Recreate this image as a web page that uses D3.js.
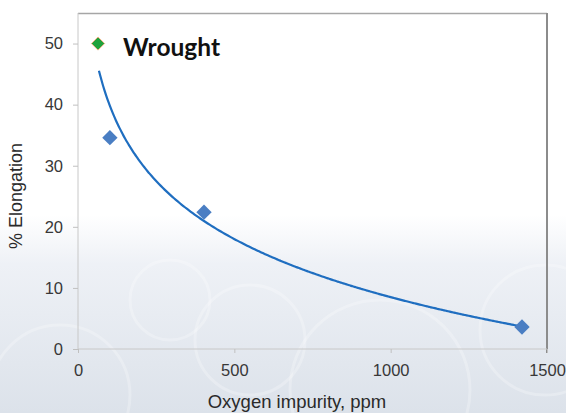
<!DOCTYPE html>
<html>
<head>
<meta charset="utf-8">
<script src="https://cdn.jsdelivr.net/npm/d3@7"></script>
<style>
  html, body { margin: 0; padding: 0; }
  body { width: 566px; height: 413px; overflow: hidden; }
</style>
</head>
<body>
<div id="chart"></div>
<script>
// measured data (oxygen ppm vs % elongation)
const oxygenPpm = [102, 403, 1420];
const elongation = [34.6, 22.4, 3.6];
const wroughtPpm = [64];
const wroughtElong = [50];
const xTicks = [0, 500, 1000, 1500];
const yTicks = [0, 10, 20, 30, 40, 50];

const width = 566, height = 413;
const margin = { top: 13, right: 20, bottom: 64, left: 78 };

const svg = d3.select('#chart').append('svg')
  .attr('width', width)
  .attr('height', height);

const defs = svg.append('defs');
const bg = defs.append('linearGradient')
  .attr('id', 'bg')
  .attr('x1', 0).attr('y1', 0).attr('x2', 0).attr('y2', 1);
bg.append('stop').attr('offset', '0%').attr('stop-color', '#ffffff');
bg.append('stop').attr('offset', '52%').attr('stop-color', '#ffffff');
bg.append('stop').attr('offset', '64%').attr('stop-color', '#eef1f6');
bg.append('stop').attr('offset', '100%').attr('stop-color', '#dce2ea');

svg.append('rect')
  .attr('width', width).attr('height', height)
  .attr('fill', 'url(#bg)');

// faint decorative bubbles in the backdrop
const bubbles = [[60, 395, 70], [250, 340, 55], [380, 390, 90], [545, 330, 65], [170, 300, 40]];
svg.append('g')
  .selectAll('circle')
  .data(bubbles)
  .enter()
  .append('circle')
  .attr('cx', d => d[0]).attr('cy', d => d[1]).attr('r', d => d[2])
  .attr('fill', 'none')
  .attr('stroke', '#ffffff')
  .attr('stroke-opacity', 0.25)
  .attr('stroke-width', 3);

const x = d3.scaleLinear().domain([0, 1500]).range([margin.left, 547]);
const y = d3.scaleLinear().domain([0, 55]).range([349, margin.top]);

// plot frame: top and right darker, left/bottom as axes
svg.append('line')
  .attr('x1', x(0)).attr('x2', x(1500))
  .attr('y1', y(55) + 0.5).attr('y2', y(55) + 0.5)
  .style('stroke', '#a6a6a6').style('stroke-width', 1.5);
svg.append('line')
  .attr('x1', x(1500)).attr('x2', x(1500))
  .attr('y1', y(55)).attr('y2', y(0) + 4)
  .style('stroke', '#8c8c8c').style('stroke-width', 2);

const xAxis = svg.append('g')
  .attr('transform', `translate(0, ${y(0)})`)
  .call(d3.axisBottom(x).tickValues(xTicks).tickSize(4).tickFormat(d3.format('d')));
const yAxis = svg.append('g')
  .attr('transform', `translate(${x(0)}, 0)`)
  .call(d3.axisLeft(y).tickValues(yTicks).tickSize(5));

[xAxis, yAxis].forEach(ax => {
  ax.select('.domain').style('stroke', '#c8c8c8');
  ax.selectAll('.tick line').style('stroke', '#c0c0c0');
  ax.selectAll('text')
    .style('font-family', 'Liberation Sans, Arial, sans-serif')
    .style('font-size', '16.5px')
    .style('fill', '#383838');
});
xAxis.select('.domain').attr('d', `M${x(0)},0H${x(1500)}`);
yAxis.select('.domain').attr('d', `M0,${y(0)}V${y(55)}`);
xAxis.selectAll('text').attr('y', 27).attr('dy', 0);
yAxis.selectAll('text').attr('x', -15);

// axis titles
svg.append('text')
  .attr('x', 297).attr('y', 408)
  .attr('text-anchor', 'middle')
  .style('font-family', 'Liberation Sans, Arial, sans-serif')
  .style('font-size', '18.5px')
  .style('fill', '#2a2a2a')
  .text('Oxygen impurity, ppm');
svg.append('text')
  .attr('transform', 'translate(22, 196) rotate(-90)')
  .attr('text-anchor', 'middle')
  .style('font-family', 'Liberation Sans, Arial, sans-serif')
  .style('font-size', '18px')
  .style('fill', '#2a2a2a')
  .text('% Elongation');

// logarithmic trendline, least squares over all points
const allX = wroughtPpm.concat(oxygenPpm);
const allY = wroughtElong.concat(elongation);
const lx = allX.map(Math.log);
const mx = d3.mean(lx), my = d3.mean(allY);
const b = d3.sum(lx, (v, i) => (v - mx) * (allY[i] - my)) / d3.sum(lx, v => (v - mx) * (v - mx));
const a = my - b * mx;
const trendX = d3.range(67, 1421, 6);
const line = d3.line()
  .x(d => x(d))
  .y(d => y(a + b * Math.log(d)))
  .curve(d3.curveBasis);
svg.append('path')
  .datum(trendX)
  .attr('d', line)
  .attr('fill', 'none')
  .style('stroke', '#1f6ec0')
  .style('stroke-width', 2.2);

// measured points
const diamond = d3.symbol().type(d3.symbolDiamond2).size(150);
svg.append('g')
  .selectAll('path')
  .data(oxygenPpm)
  .enter()
  .append('path')
  .attr('d', diamond)
  .attr('transform', (d, i) => `translate(${x(d)}, ${y(elongation[i])})`)
  .style('fill', '#4a7ec3');

// wrought reference point + label
svg.append('g')
  .selectAll('path')
  .data(wroughtPpm)
  .enter()
  .append('path')
  .attr('d', d3.symbol().type(d3.symbolDiamond2).size(110))
  .attr('transform', (d, i) => `translate(${x(d)}, ${y(wroughtElong[i])})`)
  .style('fill', '#1fa23c')
  .style('stroke', '#e8b080')
  .style('stroke-width', 1);
svg.append('text')
  .attr('x', 123).attr('y', 56)
  .style('font-family', 'Lato, sans-serif')
  .style('font-weight', 'bold')
  .style('font-size', '24.5px')
  .style('fill', '#111')
  .text('Wrought');
</script>
</body>
</html>
